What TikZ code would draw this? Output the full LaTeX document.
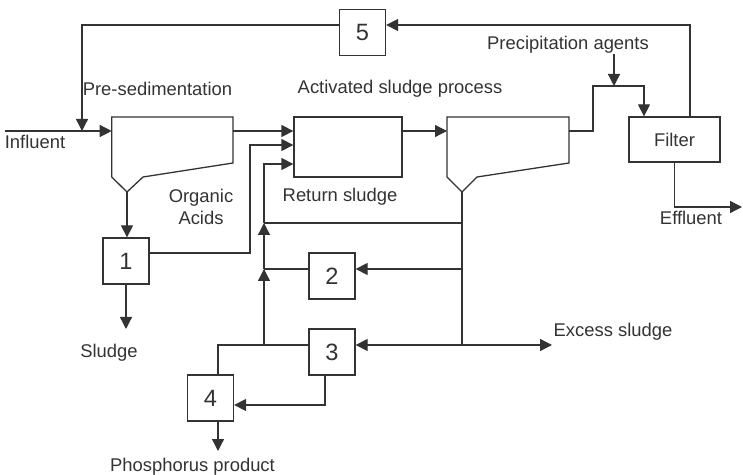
\documentclass[tikz,border=0pt]{standalone}
\usepackage{fontspec}
\setmainfont{Liberation Sans}
\usetikzlibrary{arrows.meta}

\begin{document}
\begin{tikzpicture}[x=0.5pt,y=-0.5pt,
    line width=0.65pt, color=black!80,
    arr/.style={-{Triangle[length=6pt,width=6pt]}},
    numbox/.style={draw, minimum size=23pt, inner sep=0pt, font=\fontsize{11.8}{14}\selectfont},
    lbl/.style={font=\fontsize{9.2}{11}\selectfont, inner sep=0pt}]
    \useasboundingbox (0,0) rectangle (743,475);

    % units and tanks
    \node[numbox] (b5) at (362.5,32.5) {5};
    \node[numbox] (b1) at (126,261) {1};
    \node[numbox] (b2) at (332,276) {2};
    \node[numbox] (b3) at (332,352) {3};
    \node[numbox] (b4) at (210.5,398) {4};
    \node[draw, lbl, minimum width=45.5pt, minimum height=22.5pt] (filter) at (674.5,139.5) {Filter};
    \node[draw, minimum width=54pt, minimum height=30pt] (asp) at (348,147) {};

    \draw (111.7,117) -- (233,117) -- (233,163) -- (143,177) -- (127,192) -- (111.7,177) -- cycle;
    \draw (447,117) -- (569,117) -- (569,163) -- (477,177) -- (462,192) -- (447,177) -- cycle;

    \coordinate (psin) at (111.7,131);
    \coordinate (psout) at (233,131);
    \coordinate (psbot) at (127,192);
    \coordinate (clin) at (447,131);
    \coordinate (clout) at (569,131);
    \coordinate (clbot) at (462,192);
    \coordinate (mix) at (82,131);
    \coordinate (mix2) at (614,86);
    \coordinate (j1) at (462,223);
    \coordinate (j2) at (462,269);
    \coordinate (j3) at (462,345);
    \coordinate (r1) at (264,223);
    \coordinate (r2) at (264,269);
    \coordinate (r3) at (264,345);

    % labels
    \node[lbl] (influent) at (35,142) {Influent};
    \node[lbl] (presed) at (157.5,89) {Pre-sedimentation};
    \node[lbl] (asplbl) at (400,89) {Activated sludge process};
    \node[lbl, align=center] (acids) at (201,207) {Organic\\Acids};
    \node[lbl] (retsl) at (340,197) {Return sludge};
    \node[lbl] (pa) at (568,45) {Precipitation agents};
    \node[lbl] (effl) at (691,218) {Effluent};
    \node[lbl] (sludge) at (109,353) {Sludge};
    \node[lbl] (phos) at (192.5,467) {Phosphorus product};
    \node[lbl, anchor=west] (excess) at (553,332) {Excess sludge};

    % main line
    \draw[arr] (5,131) -- (psin);
    \draw[arr] (psout) -- (psout -| asp.west);
    \draw[arr] (clin -| asp.east) -- (clin);
    \draw[arr] (clout) -| (593,86) -| ([xshift=-15.25pt]filter.north);
    \draw[arr] (mix2 |- pa.south) -- (mix2);
    \draw[arr] (filter.south) |- (742,207);

    % recycle via 5
    \draw[arr] ([xshift=7.75pt]filter.north) |- ([yshift=3.75pt]b5.east);
    \draw[arr] ([yshift=3.75pt]b5.west) -| (mix);

    % pre-sedimentation sludge
    \draw[arr] (psbot) -- (psbot |- b1.north);
    \draw[arr] (b1.south) -- (126,329);
    \draw[arr] ([yshift=4pt]b1.east) -| (250,145) -- ([yshift=1pt]asp.west);

    % return sludge
    \draw (clbot) -- (j3);
    \draw[arr] (j3) -- (552,345);
    \draw[arr] (j2) -- (j2 -| b2.east);
    \draw[arr] (j3) -- (j3 -| b3.east);
    \draw (j1) -- (r1);
    \draw (j2 -| b2.west) -- (r2);
    \draw (j3 -| b3.west) -| ([xshift=3.75pt]b4.north);
    \draw[arr] (r3) -- (r2);
    \draw[arr] (r2) -- (r1);
    \draw[arr] (r1) |- ([yshift=-8.5pt]asp.west);
    \draw[arr] ([xshift=-3.5pt]b3.south) |- ([yshift=-3.5pt]b4.east);
    \draw[arr] ([xshift=3.75pt]b4.south) -- (218,451);
\end{tikzpicture}
\end{document}
